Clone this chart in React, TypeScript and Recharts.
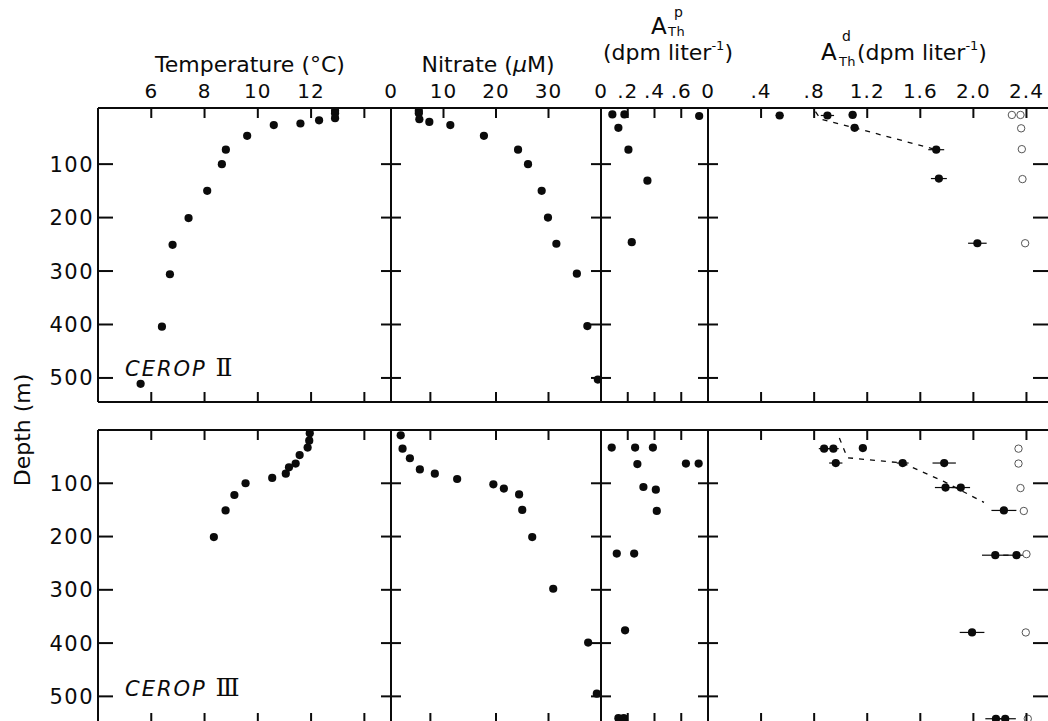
import React from 'react';
import { ScatterChart, Scatter, XAxis, YAxis, ErrorBar } from 'recharts';

// ---------------- data ----------------
const depthTicks = [100, 200, 300, 400, 500];
const depthTickLabels = ['100', '200', '300', '400', '500'];

const tempTicks = [6, 8, 10, 12, 14];
const tempTickLabels = ['6', '8', '10', '12', ''];
const nitrateTopTicks = [0, 10, 20, 30];
const nitrateTickLabels = ['0', '10', '20', '30'];
const nitrateInnerTicks = [7.5, 20, 30];
const partTicks = [0, 0.2, 0.4, 0.6];
const partTickLabels = ['0', '.2', '.4', '.6'];
const dissTicks = [0, 0.4, 0.8, 1.2, 1.6, 2.0, 2.4];
const dissTickLabels = ['0', '.4', '.8', '1.2', '1.6', '2.0', '2.4'];

// CEROP II  — [value, depth] or [value, depth, xError]
const tempII = [[12.9, 0], [12.9, 5], [12.9, 14], [12.3, 18], [11.6, 24], [10.6, 27], [9.6, 47], [8.8, 73], [8.65, 100], [8.1, 150], [7.4, 201], [6.8, 251], [6.7, 306], [6.4, 404], [5.6, 511]];
const nitrateII = [[5.3, 0], [5.3, 5], [5.4, 16], [7.3, 21], [11.3, 27], [17.7, 47], [24.2, 73], [26.1, 100], [28.7, 150], [29.9, 200], [31.5, 249], [35.4, 305], [37.4, 403], [39.4, 503]];
const partII = [[0.085, 7], [0.175, 7], [0.13, 32], [0.205, 73], [0.347, 131], [0.23, 246], [0.734, 10]];
const dissII = [[0.54, 9, 0.03], [0.9, 9, 0.05], [1.09, 8, 0.03], [1.105, 32, 0.03], [1.72, 73, 0.06], [1.74, 127, 0.06], [2.03, 248, 0.07]];
const dissOpenII = [[2.29, 8], [2.355, 8], [2.36, 33], [2.365, 72], [2.37, 128], [2.39, 248]];
const dissDashII = [[0.81, 2], [0.85, 16], [1.105, 32], [1.72, 73]];

// CEROP III
const tempIII = [[11.95, 6], [11.93, 20], [11.87, 33], [11.57, 47], [11.42, 63], [11.17, 70], [11.05, 82], [10.54, 90], [9.54, 100], [9.12, 122], [8.79, 151], [8.35, 201]];
const nitrateIII = [[1.85, 10], [2.2, 35], [3.6, 53], [5.5, 74], [8.35, 82], [12.6, 92], [19.5, 102], [21.5, 110], [24.4, 121], [25.0, 150], [26.9, 201], [30.9, 298], [37.55, 399], [39.2, 495]];
const partIII = [[0.08, 33], [0.255, 33], [0.388, 33], [0.272, 64], [0.635, 63], [0.73, 63], [0.317, 107], [0.41, 112], [0.417, 152], [0.118, 232], [0.248, 232], [0.18, 376], [0.13, 541], [0.17, 541]];
const dissIII = [[0.875, 35, 0.04], [0.945, 35, 0.04], [0.963, 62, 0.05], [1.167, 34, 0.03], [1.467, 62, 0.045], [1.78, 62, 0.088], [1.79, 108, 0.08], [1.905, 108, 0.07], [2.23, 151, 0.094], [2.165, 235, 0.1], [2.325, 235, 0.1], [1.99, 380, 0.093], [2.17, 542, 0.08], [2.24, 542, 0.08]];
const dissOpenIII = [[2.34, 35], [2.34, 63], [2.355, 109], [2.38, 152], [2.4, 233], [2.395, 380], [2.41, 542]];
const dissDashIII = [[0.99, 15], [1.05, 52], [1.467, 62], [1.78, 97], [2.08, 136]];

// ---------------- styling / layout ----------------
const FONT = '"DejaVu Sans", Verdana, sans-serif';
const INK = '#0b0b0b';

type Pt = { x: number; y: number; ex: number };
const toPts = (arr: number[][]): Pt[] => arr.map((r) => ({ x: r[0], y: r[1], ex: r[2] ?? 0 }));

type Col = {
  x0: number; x1: number; domain: [number, number];
  topTicks: number[]; innerTicks: number[]; labels: string[]; padL: number;
  first?: boolean; last?: boolean;
};
type Row = { y0: number; y1: number; domain: [number, number]; padT: number; top: boolean };

const COLS: Record<string, Col> = {
  temp: { x0: 98, x1: 391, domain: [4, 15], topTicks: tempTicks, innerTicks: tempTicks, labels: tempTickLabels, padL: 98, first: true },
  nitrate: { x0: 391, x1: 601, domain: [0, 40], topTicks: nitrateTopTicks, innerTicks: nitrateInnerTicks, labels: nitrateTickLabels, padL: 12 },
  part: { x0: 601, x1: 708, domain: [0, 0.8], topTicks: partTicks, innerTicks: partTicks, labels: partTickLabels, padL: 12 },
  diss: { x0: 708, x1: 1053, domain: [0, 2.6], topTicks: dissTicks, innerTicks: dissTicks, labels: dissTickLabels, padL: 12, last: true },
};
const ROWS: Record<string, Row> = {
  II: { y0: 108, y1: 402, domain: [-5, 545], padT: 30, top: true },
  III: { y0: 430, y1: 723, domain: [0, 550], padT: 12, top: false },
};

const FilledDot = (p: any) => <circle cx={p.cx} cy={p.cy} r={4.1} fill={INK} />;
const OpenDot = (p: any) => <circle cx={p.cx} cy={p.cy} r={3.7} fill="#fff" stroke="#555" strokeWidth={1} />;
const NoShape = () => <g />;

const makeTopTick = (col: Col, withLabels: boolean, ticks: number[]) => (p: any) => {
  const v = p.payload.value;
  const i = ticks.indexOf(v);
  return (
    <g>
      {v !== col.domain[0] && <line x1={p.x} x2={p.x} y1={p.y} y2={p.y + 10} stroke={INK} strokeWidth={2} />}
      {withLabels && (
        <text x={p.x} y={p.y - 10} textAnchor="middle" fontSize={20} fontFamily={FONT} fill={INK} letterSpacing={1}>
          {col.labels[i]}
        </text>
      )}
    </g>
  );
};
const makeBottomTick = (col: Col) => (p: any) => {
  const v = p.payload.value;
  if (v === col.domain[0]) return <g />;
  return <line x1={p.x} x2={p.x} y1={p.y} y2={p.y - 10} stroke={INK} strokeWidth={2} />;
};
const makeLeftTick = (col: Col) => (p: any) => {
  const i = depthTicks.indexOf(p.payload.value);
  return (
    <g>
      <line x1={col.first ? p.x : p.x - 10} x2={col.first ? p.x + 15 : p.x + 10} y1={p.y} y2={p.y} stroke={INK} strokeWidth={2} />
      {col.first && (
        <text x={p.x - 4} y={p.y + 7.5} textAnchor="end" fontSize={21} fontFamily={FONT} fill={INK} letterSpacing={1.5}>
          {depthTickLabels[i]}
        </text>
      )}
    </g>
  );
};
const RightTick = (p: any) => <line x1={p.x - 20} x2={p.x + 10} y1={p.y} y2={p.y} stroke={INK} strokeWidth={2} />;

type PanelProps = { col: Col; row: Row; filled: number[][]; open?: number[][]; dash?: number[][]; err?: boolean };

function Panel({ col, row, filled, open, dash, err }: PanelProps) {
  const padL = col.padL;
  const padR = 12;
  const padT = row.padT;
  const padB = 12;
  const w = col.x1 - col.x0 + padL + padR;
  const h = row.y1 - row.y0 + padT + padB;
  const filledPts = toPts(filled);
  const axisLine = { stroke: INK, strokeWidth: 2 };
  return (
    <div style={{ position: 'absolute', left: col.x0 - padL, top: row.y0 - padT }}>
      <ScatterChart width={w} height={h} margin={{ top: padT - 1, right: padR - 1, bottom: padB - 1, left: padL - 1 }}>
        <XAxis xAxisId="t" orientation="top" type="number" dataKey="x" domain={col.domain} allowDataOverflow
          ticks={row.top ? col.topTicks : col.innerTicks} interval={0} height={1} tickSize={0} tickMargin={0}
          tickLine={false} axisLine={axisLine}
          tick={makeTopTick(col, row.top, row.top ? col.topTicks : col.innerTicks)} />
        <XAxis xAxisId="b" orientation="bottom" type="number" dataKey="x" domain={col.domain} allowDataOverflow
          ticks={col.innerTicks} interval={0} height={1} tickSize={0} tickMargin={0}
          tickLine={false} axisLine={axisLine} tick={makeBottomTick(col)} />
        <YAxis yAxisId="l" orientation="left" type="number" dataKey="y" domain={row.domain} allowDataOverflow reversed
          ticks={depthTicks} interval={0} width={1} tickSize={0} tickMargin={0}
          tickLine={false} axisLine={axisLine} tick={makeLeftTick(col)} />
        <YAxis yAxisId="r" orientation="right" type="number" dataKey="y" domain={row.domain} allowDataOverflow reversed
          ticks={depthTicks} interval={0} width={1} tickSize={0} tickMargin={0}
          tickLine={false} axisLine={axisLine} tick={col.last ? RightTick : false} />
        <Scatter xAxisId="b" yAxisId="r" data={filledPts} shape={NoShape} isAnimationActive={false} />
        {dash && (
          <Scatter xAxisId="t" yAxisId="l" data={toPts(dash)} shape={NoShape} isAnimationActive={false}
            line={{ stroke: INK, strokeWidth: 1.3, strokeDasharray: '5 6' }} />
        )}
        {open && <Scatter xAxisId="t" yAxisId="l" data={toPts(open)} shape={OpenDot} isAnimationActive={false} />}
        <Scatter xAxisId="t" yAxisId="l" data={filledPts} shape={FilledDot} isAnimationActive={false}>
          {err && <ErrorBar dataKey="ex" direction="x" width={0} stroke={INK} strokeWidth={1.2} isAnimationActive={false} />}
        </Scatter>
      </ScatterChart>
    </div>
  );
}

function Titles() {
  const t = { fontFamily: FONT, fill: INK };
  return (
    <svg width={1048} height={721} style={{ position: 'absolute', left: 0, top: 0, pointerEvents: 'none' }}>
      <text x={250} y={72} textAnchor="middle" fontSize={22} {...t}>Temperature (°C)</text>
      <text x={488} y={72} textAnchor="middle" fontSize={22} {...t}>
        Nitrate (<tspan fontStyle="italic">μ</tspan>M)
      </text>
      {/* particulate thorium */}
      <text x={651} y={34} fontSize={23} {...t}>A</text>
      <text x={668} y={36} fontSize={13} letterSpacing={0.5} {...t}>Th</text>
      <text x={674} y={17} fontSize={14} {...t}>p</text>
      <text x={668} y={60} textAnchor="middle" fontSize={22} {...t}>
        (dpm liter<tspan dy={-10} fontSize={13}>-1</tspan><tspan dy={10} fontSize={22}>)</tspan>
      </text>
      {/* dissolved thorium */}
      <text x={821} y={60} fontSize={23} {...t}>A</text>
      <text x={839} y={66} fontSize={13} letterSpacing={0.3} {...t}>Th</text>
      <text x={842} y={41} fontSize={14} {...t}>d</text>
      <text x={857} y={60} fontSize={22} {...t}>
        (dpm liter<tspan dy={-10} fontSize={13}>-1</tspan><tspan dy={10} fontSize={22}>)</tspan>
      </text>
      {/* depth axis title */}
      <text x={22} y={430} transform="rotate(-90 22 430)" textAnchor="middle" dominantBaseline="central" fontSize={22} {...t}>
        Depth (m)
      </text>
      {/* station names */}
      <text x={125} y={376} fontSize={21} letterSpacing={2} {...t}>
        <tspan fontStyle="italic">CEROP </tspan>
        <tspan fontFamily='"DejaVu Serif", serif' fontSize={25}>Ⅱ</tspan>
      </text>
      <text x={125} y={696} fontSize={21} letterSpacing={2} {...t}>
        <tspan fontStyle="italic">CEROP </tspan>
        <tspan fontFamily='"DejaVu Serif", serif' fontSize={25}>Ⅲ</tspan>
      </text>
    </svg>
  );
}

export default function App() {
  return (
    <div style={{ position: 'absolute', left: 0, top: 0, width: 1048, height: 721, overflow: 'hidden', background: '#fff' }}>
      <Panel col={COLS.temp} row={ROWS.II} filled={tempII} />
      <Panel col={COLS.nitrate} row={ROWS.II} filled={nitrateII} />
      <Panel col={COLS.part} row={ROWS.II} filled={partII} />
      <Panel col={COLS.diss} row={ROWS.II} filled={dissII} open={dissOpenII} dash={dissDashII} err />
      <Panel col={COLS.temp} row={ROWS.III} filled={tempIII} />
      <Panel col={COLS.nitrate} row={ROWS.III} filled={nitrateIII} />
      <Panel col={COLS.part} row={ROWS.III} filled={partIII} />
      <Panel col={COLS.diss} row={ROWS.III} filled={dissIII} open={dissOpenIII} dash={dissDashIII} err />
      <Titles />
    </div>
  );
}
